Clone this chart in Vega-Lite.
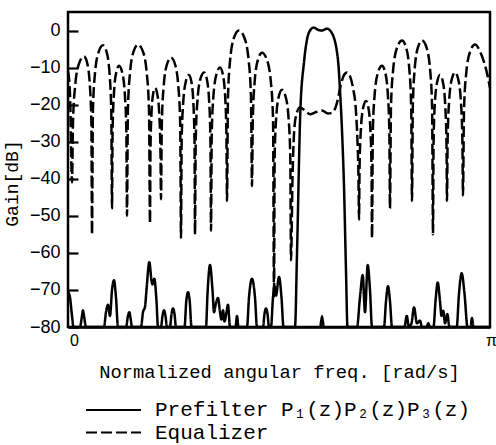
{
"$schema":"https://vega.github.io/schema/vega-lite/v6.json",
"width":422,"height":315,
"autosize":{"type":"none"},
"padding":{"left":68,"top":12,"right":6,"bottom":118},
"background":"white",
"config":{
 "view":{"stroke":"black","strokeWidth":2.5},
 "font":"Liberation Sans",
 "axis":{"grid":false,"domainColor":"black","domainWidth":2.5,"labelColor":"black","titleColor":"black","titleFontWeight":"normal","titleFont":"Liberation Mono","labelFont":"Liberation Sans"},
 "legend":{"title":null,"orient":"none","legendX":17,"symbolType":"stroke","symbolSize":3025,"symbolStrokeWidth":2,"symbolStrokeColor":"black","labelFont":"Liberation Mono","labelFontSize":21,"labelColor":"black","labelOffset":13,"padding":0,"labelLimit":0}
},
"resolve":{"scale":{"strokeDash":"independent"},"legend":{"strokeDash":"independent"}},
"datasets":{
"pre":[
{"w":0,"gain":-70.5},{"w":0.0047,"gain":-72},{"w":0.0095,"gain":-77},{"w":0.0130,"gain":-80},{"w":0.0284,"gain":-80},{"w":0.0332,"gain":-77},{"w":0.0355,"gain":-75.5},{"w":0.0379,"gain":-77},{"w":0.0427,"gain":-80},{"w":0.0853,"gain":-80},{"w":0.0900,"gain":-76},{"w":0.0948,"gain":-74},{"w":0.0995,"gain":-77},{"w":0.1043,"gain":-70},{"w":0.1090,"gain":-67.4},{"w":0.1137,"gain":-72},{"w":0.1185,"gain":-80},{"w":0.1374,"gain":-80},{"w":0.1422,"gain":-77},{"w":0.1453,"gain":-76},{"w":0.1481,"gain":-77.5},{"w":0.1517,"gain":-80},{"w":0.1730,"gain":-80},{"w":0.1777,"gain":-76},{"w":0.1825,"gain":-74.5},{"w":0.1860,"gain":-70},{"w":0.1927,"gain":-62.5},{"w":0.1979,"gain":-67.5},{"w":0.2002,"gain":-68.5},{"w":0.2045,"gain":-67},{"w":0.2097,"gain":-73},{"w":0.2133,"gain":-80},{"w":0.2204,"gain":-80},{"w":0.2239,"gain":-77},{"w":0.2275,"gain":-75.5},{"w":0.2310,"gain":-77},{"w":0.2346,"gain":-80},{"w":0.2417,"gain":-80},{"w":0.2453,"gain":-76.5},{"w":0.2488,"gain":-75},{"w":0.2524,"gain":-76.5},{"w":0.2559,"gain":-80},{"w":0.2761,"gain":-80},{"w":0.2803,"gain":-73},{"w":0.2844,"gain":-70.6},{"w":0.2884,"gain":-73},{"w":0.2927,"gain":-80},{"w":0.3270,"gain":-80},{"w":0.3306,"gain":-71},{"w":0.3365,"gain":-63.3},{"w":0.3424,"gain":-70},{"w":0.3460,"gain":-76},{"w":0.3507,"gain":-73.5},{"w":0.3555,"gain":-72.2},{"w":0.3602,"gain":-76},{"w":0.3637,"gain":-78},{"w":0.3673,"gain":-75.5},{"w":0.3709,"gain":-78.5},{"w":0.3756,"gain":-76},{"w":0.3791,"gain":-74},{"w":0.3839,"gain":-80},{"w":0.3969,"gain":-80},{"w":0.4005,"gain":-77},{"w":0.4040,"gain":-80},{"w":0.4242,"gain":-80},{"w":0.4289,"gain":-72},{"w":0.4360,"gain":-67},{"w":0.4431,"gain":-72},{"w":0.4479,"gain":-80},{"w":0.4621,"gain":-80},{"w":0.4656,"gain":-76.5},{"w":0.4692,"gain":-75},{"w":0.4728,"gain":-76.5},{"w":0.4763,"gain":-80},{"w":0.4810,"gain":-80},{"w":0.4858,"gain":-72},{"w":0.4893,"gain":-69},{"w":0.4929,"gain":-71.5},{"w":0.5000,"gain":-66.5},{"w":0.5059,"gain":-72},{"w":0.5107,"gain":-80},{"w":0.5379,"gain":-80},{"w":0.5427,"gain":-60},{"w":0.5505,"gain":-22},{"w":0.5592,"gain":-8.6},{"w":0.5664,"gain":-2.4},{"w":0.5735,"gain":0},{"w":0.5822,"gain":0.8},{"w":0.5924,"gain":0.2},{"w":0.6019,"gain":0},{"w":0.6137,"gain":0.5},{"w":0.6232,"gain":-0.3},{"w":0.6303,"gain":-2},{"w":0.6363,"gain":-5},{"w":0.6410,"gain":-9.5},{"w":0.6445,"gain":-16},{"w":0.6493,"gain":-27},{"w":0.6540,"gain":-42},{"w":0.6588,"gain":-65},{"w":0.6623,"gain":-80},{"w":0.6848,"gain":-80},{"w":0.6919,"gain":-72},{"w":0.6983,"gain":-66},{"w":0.7038,"gain":-76},{"w":0.7102,"gain":-63.3},{"w":0.7156,"gain":-70},{"w":0.7204,"gain":-80},{"w":0.7488,"gain":-80},{"w":0.7536,"gain":-73},{"w":0.7583,"gain":-69},{"w":0.7630,"gain":-73},{"w":0.7678,"gain":-80},{"w":0.7974,"gain":-80},{"w":0.8026,"gain":-77},{"w":0.8081,"gain":-80},{"w":0.8140,"gain":-79},{"w":0.8199,"gain":-74.7},{"w":0.8270,"gain":-79},{"w":0.8341,"gain":-78.3},{"w":0.8389,"gain":-80},{"w":0.8495,"gain":-80},{"w":0.8538,"gain":-79},{"w":0.8578,"gain":-80},{"w":0.8661,"gain":-80},{"w":0.8709,"gain":-73},{"w":0.8761,"gain":-68},{"w":0.8815,"gain":-73},{"w":0.8851,"gain":-77},{"w":0.8893,"gain":-75.6},{"w":0.8934,"gain":-79},{"w":0.8988,"gain":-76.5},{"w":0.9040,"gain":-80},{"w":0.9211,"gain":-80},{"w":0.9265,"gain":-71},{"w":0.9329,"gain":-65.5},{"w":0.9396,"gain":-71},{"w":0.9467,"gain":-80},{"w":0.9538,"gain":-80},{"w":0.9573,"gain":-77.6},{"w":0.9609,"gain":-80},{"w":1.0,"gain":-80}
],
"spike":[{"w":0.5983,"gain":-80},{"w":0.6019,"gain":-77},{"w":0.6055,"gain":-80}],
"eq":[
{"w":0,"gain":-11},{"w":0.0047,"gain":-17},{"w":0.0095,"gain":-41},
{"w":0.0118,"gain":-25},{"w":0.0169,"gain":-15},{"w":0.0265,"gain":-8.8},{"w":0.0379,"gain":-7},{"w":0.0455,"gain":-8.8},{"w":0.0519,"gain":-15},{"w":0.0554,"gain":-25},
{"w":0.0569,"gain":-55},
{"w":0.0590,"gain":-22},{"w":0.0636,"gain":-12},{"w":0.0725,"gain":-5.8},{"w":0.0829,"gain":-4},{"w":0.0915,"gain":-5.8},{"w":0.0987,"gain":-12},{"w":0.1026,"gain":-22},
{"w":0.1043,"gain":-48},
{"w":0.1056,"gain":-27.5},{"w":0.1086,"gain":-17.5},{"w":0.1142,"gain":-11.3},{"w":0.1209,"gain":-9.5},{"w":0.1284,"gain":-11.3},{"w":0.1349,"gain":-17.5},{"w":0.1383,"gain":-27.5},
{"w":0.1398,"gain":-50},
{"w":0.1419,"gain":-21.8},{"w":0.1466,"gain":-11.8},{"w":0.1555,"gain":-5.6},{"w":0.1659,"gain":-3.8},{"w":0.1773,"gain":-5.6},{"w":0.1869,"gain":-11.8},{"w":0.1920,"gain":-21.8},
{"w":0.1943,"gain":-52},
{"w":0.1953,"gain":-33.5},{"w":0.1974,"gain":-23.5},{"w":0.2014,"gain":-17.3},{"w":0.2062,"gain":-15.5},{"w":0.2118,"gain":-17.3},{"w":0.2167,"gain":-23.5},{"w":0.2192,"gain":-33.5},
{"w":0.2204,"gain":-45.5},
{"w":0.2223,"gain":-25.3},{"w":0.2265,"gain":-15.3},{"w":0.2346,"gain":-9.1},{"w":0.2441,"gain":-7.3},{"w":0.2536,"gain":-9.1},{"w":0.2616,"gain":-15.3},{"w":0.2659,"gain":-25.3},
{"w":0.2678,"gain":-56},
{"w":0.2693,"gain":-30},{"w":0.2727,"gain":-20},{"w":0.2791,"gain":-13.8},{"w":0.2867,"gain":-12},{"w":0.2924,"gain":-13.8},{"w":0.2973,"gain":-20},{"w":0.2998,"gain":-30},
{"w":0.3009,"gain":-55},
{"w":0.3027,"gain":-29.3},{"w":0.3065,"gain":-19.3},{"w":0.3137,"gain":-13.1},{"w":0.3223,"gain":-11.3},{"w":0.3289,"gain":-13.1},{"w":0.3346,"gain":-19.3},{"w":0.3375,"gain":-29.3},
{"w":0.3389,"gain":-54},
{"w":0.3406,"gain":-28},{"w":0.3444,"gain":-18},{"w":0.3517,"gain":-11.8},{"w":0.3602,"gain":-10},{"w":0.3668,"gain":-11.8},{"w":0.3725,"gain":-18},{"w":0.3754,"gain":-28},
{"w":0.3768,"gain":-46},
{"w":0.3791,"gain":-18},{"w":0.3842,"gain":-8},{"w":0.3938,"gain":-1.8},{"w":0.4052,"gain":0},{"w":0.4175,"gain":-1.8},{"w":0.4280,"gain":-8},{"w":0.4336,"gain":-18},
{"w":0.4360,"gain":-42},
{"w":0.4379,"gain":-24},{"w":0.4422,"gain":-14},{"w":0.4502,"gain":-7.8},{"w":0.4597,"gain":-6},{"w":0.4711,"gain":-7.8},{"w":0.4808,"gain":-14},{"w":0.4859,"gain":-24},
{"w":0.4882,"gain":-72},
{"w":0.4897,"gain":-34},{"w":0.4931,"gain":-24},{"w":0.4995,"gain":-17.8},{"w":0.5071,"gain":-16},{"w":0.5156,"gain":-17.8},{"w":0.5229,"gain":-24},{"w":0.5267,"gain":-34},
{"w":0.5284,"gain":-62},
{"w":0.5320,"gain":-40},{"w":0.5355,"gain":-28},{"w":0.5403,"gain":-23},{"w":0.5498,"gain":-20.8},{"w":0.5616,"gain":-21.6},{"w":0.5735,"gain":-22.6},{"w":0.5877,"gain":-22},{"w":0.6019,"gain":-21.6},{"w":0.6161,"gain":-22.4},{"w":0.6280,"gain":-22},{"w":0.6374,"gain":-19.5},{"w":0.6469,"gain":-14.5},{"w":0.6540,"gain":-12},{"w":0.6611,"gain":-11.3},{"w":0.6682,"gain":-12.3},{"w":0.6754,"gain":-15.5},{"w":0.6825,"gain":-22},{"w":0.6860,"gain":-30},{"w":0.6884,"gain":-40},
{"w":0.6896,"gain":-51},
{"w":0.6909,"gain":-37},{"w":0.6939,"gain":-27},{"w":0.6995,"gain":-20.8},{"w":0.7062,"gain":-19},{"w":0.7118,"gain":-20.8},{"w":0.7167,"gain":-27},{"w":0.7192,"gain":-37},
{"w":0.7204,"gain":-56},
{"w":0.7223,"gain":-27.5},{"w":0.7265,"gain":-17.5},{"w":0.7346,"gain":-11.3},{"w":0.7441,"gain":-9.5},{"w":0.7517,"gain":-11.3},{"w":0.7581,"gain":-17.5},{"w":0.7615,"gain":-27.5},
{"w":0.7630,"gain":-48},
{"w":0.7653,"gain":-20.7},{"w":0.7704,"gain":-10.7},{"w":0.7801,"gain":-4.5},{"w":0.7915,"gain":-2.7},{"w":0.8009,"gain":-4.5},{"w":0.8090,"gain":-10.7},{"w":0.8133,"gain":-20.7},
{"w":0.8152,"gain":-46},
{"w":0.8171,"gain":-20.7},{"w":0.8213,"gain":-10.7},{"w":0.8294,"gain":-4.5},{"w":0.8389,"gain":-2.7},{"w":0.8493,"gain":-4.5},{"w":0.8582,"gain":-10.7},{"w":0.8628,"gain":-20.7},
{"w":0.8649,"gain":-55},
{"w":0.8663,"gain":-30},{"w":0.8692,"gain":-20},{"w":0.8749,"gain":-13.8},{"w":0.8815,"gain":-12},{"w":0.8882,"gain":-13.8},{"w":0.8938,"gain":-20},{"w":0.8968,"gain":-30},
{"w":0.8981,"gain":-46},
{"w":0.8996,"gain":-29.3},{"w":0.9030,"gain":-19.3},{"w":0.9095,"gain":-13.1},{"w":0.9171,"gain":-11.3},{"w":0.9246,"gain":-13.1},{"w":0.9311,"gain":-19.3},{"w":0.9345,"gain":-29.3},
{"w":0.9360,"gain":-44.5},
{"w":0.9383,"gain":-21.8},{"w":0.9434,"gain":-11.8},{"w":0.9531,"gain":-5.6},{"w":0.9645,"gain":-3.8},{"w":0.9763,"gain":-5.6},{"w":0.9858,"gain":-8.5},{"w":0.9929,"gain":-11.5},{"w":1.0,"gain":-15.5}
]
},
"encoding":{
 "x":{"field":"w","type":"quantitative","scale":{"domain":[0,1],"nice":false,"zero":false},
  "axis":{"values":[0,1],"labelExpr":"datum.value == 0 ? '0' : 'π'","ticks":false,"labelFlush":false,"labelFontSize":16,"labelPadding":5,"labelOffset":{"condition":{"test":"datum.value == 0","value":6},"value":1},"title":"Normalized angular freq. [rad/s]","titleFontSize":18.8,"titleY":44,"titleBaseline":"middle"}},
 "y":{"field":"gain","type":"quantitative","scale":{"domain":[-80,5],"nice":false,"zero":false},
  "axis":{"values":[0,-10,-20,-30,-40,-50,-60,-70,-80],"labelExpr":"datum.value == 0 ? '0\u00a0\u00a0' : datum.label","offset":-10,"domain":false,"tickSize":10,"tickWidth":2.2,"tickColor":"black","labelFontSize":18,"labelPadding":8,"title":"Gain[dB]","titleFontSize":18,"titleX":-66,"titleY":171,"titleAngle":270,"titleAlign":"center","titleBaseline":"middle"}}
},
"layer":[
 {"data":{"name":"pre"},"mark":{"type":"line","interpolate":"monotone","color":"black","strokeWidth":2.5},
  "encoding":{"strokeDash":{"datum":"Prefilter","type":"nominal","scale":{"domain":["Prefilter"],"range":[[1,0]]},
   "legend":{"legendY":369.5,"labelExpr":"'Prefilter P₁(z)P₂(z)P₃(z)'"}}}},
 {"data":{"name":"spike"},"mark":{"type":"line","interpolate":"monotone","color":"black","strokeWidth":2.5},
  "encoding":{}},
 {"data":{"name":"eq"},"mark":{"type":"line","interpolate":"monotone","color":"black","strokeWidth":2.5},
  "encoding":{"strokeDash":{"datum":"Equalizer","type":"nominal","scale":{"domain":["Equalizer"],"range":[[11,4]]},
   "legend":{"legendY":392}}}}
]
}
